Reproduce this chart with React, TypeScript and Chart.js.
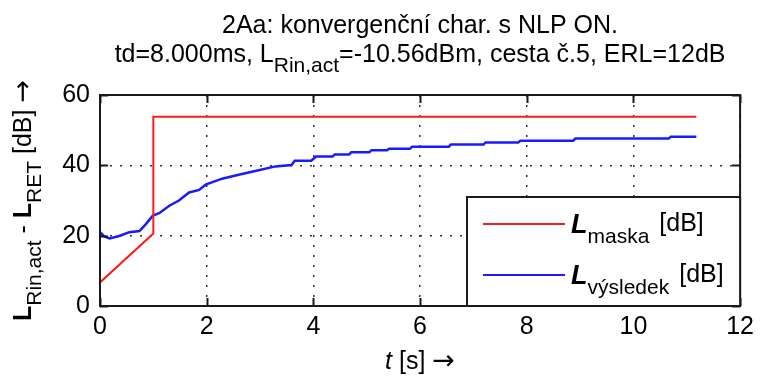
import React, { useEffect, useRef } from "react";
import { Chart, registerables } from "chart.js";

Chart.register(...registerables);

// ---- data ----
const maskaT = [0, 1.0, 1.0, 11.18];
const maskaV = [6.7, 20.6, 53.8, 53.8];

const vysledekT = [
  0, 0.08, 0.18, 0.36, 0.55, 0.74, 0.86, 0.99, 1.11, 1.3, 1.48, 1.67, 1.86, 1.98,
  2.29, 2.6, 2.91, 3.29, 3.59, 3.65, 3.96, 4.05, 4.36, 4.4, 4.67, 4.71, 5.05, 5.09,
  5.38, 5.42, 5.81, 5.85, 6.54, 6.58, 7.19, 7.23, 7.84, 7.88, 8.87, 8.91, 10.66,
  10.7, 11.18,
];
const vysledekV = [
  21.0, 19.8, 19.2, 19.9, 21.0, 21.3, 23.3, 25.7, 26.4, 28.5, 30.0, 32.3, 33.0, 34.5,
  36.2, 37.3, 38.4, 39.7, 40.1, 41.3, 41.3, 42.5, 42.5, 43.1, 43.1, 43.7, 43.7, 44.3,
  44.3, 44.7, 44.7, 45.3, 45.3, 45.9, 45.9, 46.5, 46.5, 47.0, 47.0, 47.6, 47.6,
  48.1, 48.1,
];

const xTickValues = [0, 2, 4, 6, 8, 10, 12];
const yTickValues = [0, 20, 40, 60];

const titleLine1 = "2Aa: konvergenční char. s NLP ON.";
const titleLine2Parts = [
  { t: "td=8.000ms, L", sub: false },
  { t: "Rin,act", sub: true },
  { t: "=-10.56dBm, cesta č.5, ERL=12dB", sub: false },
];
const legendLabels = [
  { sub: "maska", color: "#ff1a1a" },
  { sub: "výsledek", color: "#1a1aff" },
];

const FF = '"Liberation Sans", Arial, Helvetica, sans-serif';
const ARROW_FONT = '27px "DejaVu Sans", sans-serif';

type Part = { t: string; font: string; dy: number };

function partsWidth(ctx: CanvasRenderingContext2D, parts: Part[]) {
  let w = 0;
  for (const p of parts) {
    ctx.font = p.font;
    w += ctx.measureText(p.t).width;
  }
  return w;
}

function drawParts(ctx: CanvasRenderingContext2D, parts: Part[], x: number, y: number) {
  let cx = x;
  for (const p of parts) {
    ctx.font = p.font;
    ctx.fillText(p.t, cx, y + p.dy);
    cx += ctx.measureText(p.t).width;
  }
  return cx;
}

const decorPlugin = {
  id: "decor",
  afterDatasetsDraw(chart: any) {
    const ctx: CanvasRenderingContext2D = chart.ctx;
    const { left, right, top, bottom } = chart.chartArea;
    const xs = chart.scales.x;
    const ys = chart.scales.y;
    ctx.save();
    ctx.strokeStyle = "#1a1a1a";
    ctx.lineWidth = 2;
    ctx.setLineDash([]);
    ctx.strokeRect(left, top, right - left, bottom - top);
    const tl = 8;
    ctx.beginPath();
    for (const v of xTickValues) {
      const px = Math.round(xs.getPixelForValue(v)) + 0.5;
      ctx.moveTo(px, bottom);
      ctx.lineTo(px, bottom - tl);
      ctx.moveTo(px, top);
      ctx.lineTo(px, top + tl);
    }
    for (const v of yTickValues) {
      const py = Math.round(ys.getPixelForValue(v)) + 0.5;
      ctx.moveTo(left, py);
      ctx.lineTo(left + tl, py);
      ctx.moveTo(right, py);
      ctx.lineTo(right - tl, py);
    }
    ctx.stroke();
    ctx.restore();
  },
  afterDraw(chart: any) {
    const ctx: CanvasRenderingContext2D = chart.ctx;
    const { left, right, top, bottom } = chart.chartArea;
    const cx = (left + right) / 2;
    const cy = (top + bottom) / 2;
    ctx.save();
    ctx.fillStyle = "#000";
    ctx.textBaseline = "alphabetic";
    ctx.textAlign = "left";

    const main = `25px ${FF}`;
    const sub = `21px ${FF}`;

    // title
    ctx.font = main;
    const w1 = ctx.measureText(titleLine1).width;
    ctx.fillText(titleLine1, cx - w1 / 2, 33);
    const p2: Part[] = titleLine2Parts.map((p) => ({
      t: p.t,
      font: p.sub ? sub : main,
      dy: p.sub ? 10 : 0,
    }));
    const w2 = partsWidth(ctx, p2);
    drawParts(ctx, p2, cx - w2 / 2, 62);

    // x label
    const px: Part[] = [
      { t: "t", font: `italic 25px ${FF}`, dy: 0 },
      { t: " [s] ", font: main, dy: 0 },
      { t: "\u2192", font: ARROW_FONT, dy: 0 },
    ];
    const wx = partsWidth(ctx, px);
    drawParts(ctx, px, cx - wx / 2, 369);

    // y label
    const py: Part[] = [
      { t: "L", font: `bold 25px ${FF}`, dy: 0 },
      { t: "Rin,act", font: sub, dy: 10 },
      { t: " - ", font: main, dy: 0 },
      { t: "L", font: `bold 25px ${FF}`, dy: 0 },
      { t: "RET", font: sub, dy: 10 },
      { t: " [dB] ", font: main, dy: 0 },
      { t: "\u2192", font: ARROW_FONT, dy: 0 },
    ];
    const wy = partsWidth(ctx, py);
    ctx.save();
    ctx.translate(31, cy);
    ctx.rotate(-Math.PI / 2);
    drawParts(ctx, py, -wy / 2, 0);
    ctx.restore();

    // legend
    const lx = 467;
    const ly = 197;
    const lw = right - lx;
    const lh = bottom - ly;
    ctx.fillStyle = "#fff";
    ctx.fillRect(lx, ly, lw, lh);
    ctx.strokeStyle = "#1a1a1a";
    ctx.lineWidth = 2;
    ctx.strokeRect(lx, ly, lw, lh);
    const rows = [224, 275];
    legendLabels.forEach((lab, i) => {
      const yy = rows[i];
      ctx.strokeStyle = lab.color;
      ctx.lineWidth = 2;
      ctx.beginPath();
      ctx.moveTo(lx + 16, yy);
      ctx.lineTo(lx + 98, yy);
      ctx.stroke();
      ctx.fillStyle = "#000";
      const parts: Part[] = [
        { t: "L", font: `italic bold 27px ${FF}`, dy: 0 },
        { t: lab.sub, font: `21px ${FF}`, dy: 10 },
      ];
      const endX = drawParts(ctx, parts, lx + 104, yy + 9);
      ctx.font = main;
      ctx.fillText("[dB]", endX + 10, yy + 7);
    });
    ctx.restore();
  },
};

export default function App() {
  const ref = useRef<HTMLCanvasElement | null>(null);
  useEffect(() => {
    if (!ref.current) return;
    const chart = new Chart(ref.current, {
      type: "line",
      data: {
        datasets: [
          {
            label: "maska",
            data: maskaT.map((t, i) => ({ x: t, y: maskaV[i] })),
            borderColor: "#ff1a1a",
            borderWidth: 2,
            pointRadius: 0,
            fill: false,
            tension: 0,
          },
          {
            label: "vysledek",
            data: vysledekT.map((t, i) => ({ x: t, y: vysledekV[i] })),
            borderColor: "#1a1aff",
            borderWidth: 2.5,
            pointRadius: 0,
            fill: false,
            tension: 0,
          },
        ],
      },
      plugins: [decorPlugin],
      options: {
        animation: false,
        responsive: false,
        devicePixelRatio: 1,
        layout: { padding: { left: 0, right: 16, top: 95, bottom: 0 } },
        plugins: {
          legend: { display: false },
          title: { display: false },
          tooltip: { enabled: false },
        },
        scales: {
          x: {
            type: "linear",
            min: 0,
            max: 12,
            afterBuildTicks: (s: any) => {
              s.ticks = xTickValues.map((v) => ({ value: v }));
            },
            afterFit: (s: any) => {
              s.height = 72;
            },
            ticks: {
              color: "#000",
              font: { family: FF, size: 25 },
              padding: 6,
              maxRotation: 0,
              autoSkip: false,
            },
            grid: {
              color: "rgba(0,0,0,0.8)",
              lineWidth: 1.5,
              drawTicks: false,
            },
            border: { display: false, dash: [2, 8] },
          },
          y: {
            type: "linear",
            min: 0,
            max: 60,
            afterBuildTicks: (s: any) => {
              s.ticks = yTickValues.map((v) => ({ value: v }));
            },
            afterFit: (s: any) => {
              s.width = 100;
            },
            ticks: {
              color: "#000",
              font: { family: FF, size: 25 },
              padding: 10,
              autoSkip: false,
            },
            grid: {
              color: "rgba(0,0,0,0.8)",
              lineWidth: 1.5,
              drawTicks: false,
            },
            border: { display: false, dash: [2, 8] },
          },
        },
      },
    });
    return () => chart.destroy();
  }, []);
  return (
    <div style={{ position: "absolute", left: 0, top: 0, width: 760, height: 378, background: "#fff" }}>
      <canvas ref={ref} width={760} height={378} style={{ width: 760, height: 378 }} />
    </div>
  );
}
